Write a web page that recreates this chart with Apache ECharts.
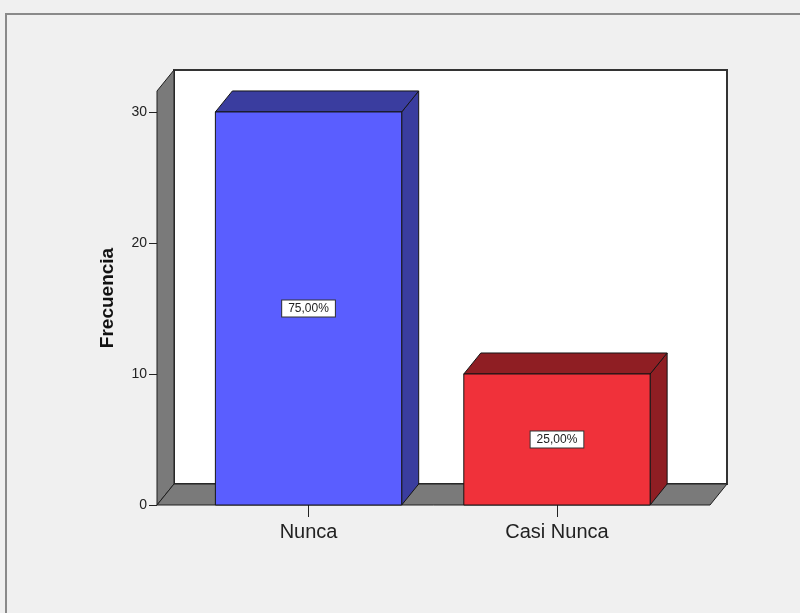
<!DOCTYPE html>
<html>
<head>
<meta charset="utf-8">
<script src="https://cdn.jsdelivr.net/npm/echarts@6/dist/echarts.min.js"></script>
<style>
  html, body { margin: 0; padding: 0; background: #f0f0f0; }
  #chart { width: 800px; height: 613px; }
</style>
</head>
<body>
<div id="chart"></div>
<script>
const categories = ["Nunca", "Casi Nunca"];
const counts = [30, 10];
const yTicks = [0, 10, 20, 30];

const frontColors = ["#5a5eff", "#f0313a"];
const darkColors = ["#3a3d9f", "#8f1e23"];
const depthX = 17, depthY = 21; // desplazamiento 3D
const barWidth = 0.75;
const tickLen = 8;
const font = "'Liberation Sans', Arial, sans-serif";

const total = counts.reduce((a, b) => a + b, 0);
const percents = counts.map(v => (v / total * 100).toFixed(2).replace(".", ",") + "%");

let chart = echarts.init(document.getElementById("chart"));

// paredes, suelo y marcas del eje Y
function renderWalls(params, api) {
    let cs = params.coordSys;
    let x = cs.x, y = cs.y, w = cs.width, h = cs.height;
    let line = { stroke: "#1e1e1e", lineWidth: 1 };
    let children = [
        {
            type: "rect",
            shape: { x: x + depthX, y: y - depthY, width: w, height: h },
            style: { fill: "#ffffff", stroke: "#333", lineWidth: 2 }
        },
        {
            type: "polygon",
            shape: { points: [[x, y], [x + depthX, y - depthY], [x + depthX, y + h - depthY], [x, y + h]] },
            style: Object.assign({ fill: "#7a7a7a" }, line)
        },
        {
            type: "polygon",
            shape: { points: [[x, y + h], [x + depthX, y + h - depthY], [x + w + depthX, y + h - depthY], [x + w, y + h]] },
            style: Object.assign({ fill: "#7a7a7a" }, line)
        }
    ];
    yTicks.forEach(v => {
        let p = api.coord([0, v]);
        children.push({
            type: "line",
            shape: { x1: x - tickLen, y1: Math.round(p[1]) + 0.5, x2: x, y2: Math.round(p[1]) + 0.5 },
            style: { stroke: "#222", lineWidth: 1 }
        });
    });
    return { type: "group", children: children };
}

function renderBar(params, api) {
    let i = params.dataIndex;
    let base = api.coord([api.value(0), 0]);
    let top = api.coord([api.value(0), api.value(1)]);
    let hw = api.size([barWidth, 0])[0] / 2;
    let x0 = base[0] - hw, x1 = base[0] + hw, y0 = top[1], y1 = base[1];
    let line = { stroke: "#151515", lineWidth: 1 };
    return {
        type: "group",
        children: [
            {
                type: "polygon",
                shape: { points: [[x1, y0], [x1 + depthX, y0 - depthY], [x1 + depthX, y1 - depthY], [x1, y1]] },
                style: Object.assign({ fill: darkColors[i] }, line)
            },
            {
                type: "polygon",
                shape: { points: [[x0, y0], [x0 + depthX, y0 - depthY], [x1 + depthX, y0 - depthY], [x1, y0]] },
                style: Object.assign({ fill: darkColors[i] }, line)
            },
            {
                type: "rect",
                shape: { x: x0, y: y0, width: x1 - x0, height: y1 - y0 },
                style: Object.assign({ fill: frontColors[i] }, line)
            },
            {
                type: "text",
                x: base[0],
                y: (y0 + y1) / 2,
                style: {
                    text: percents[i],
                    fill: "#222",
                    fontSize: 12,
                    fontFamily: font,
                    align: "center",
                    verticalAlign: "middle",
                    backgroundColor: "#ffffff",
                    borderColor: "#333",
                    borderWidth: 1,
                    padding: [1, 6],
                    lineHeight: 14
                }
            }
        ]
    };
}

let option = {
    backgroundColor: "#f0f0f0",
    animation: false,
    graphic: [{
        type: "rect",
        shape: { x: 6, y: 14, width: 820, height: 640 },
        style: { fill: "none", stroke: "#8a8a8a", lineWidth: 2 },
        silent: true
    }],
    grid: {
        left: 157,
        right: 90,
        top: 91,
        bottom: 108
    },
    xAxis: {
        type: "value",
        min: -0.61,
        max: 1.616,
        axisLine: { show: false },
        splitLine: { show: false },
        axisTick: {
            show: true,
            customValues: [0, 1],
            length: 12,
            lineStyle: { color: "#222" }
        },
        axisLabel: {
            customValues: [0, 1],
            formatter: v => categories[Math.round(v)],
            fontSize: 20,
            fontFamily: font,
            color: "#222",
            margin: 17
        }
    },
    yAxis: {
        type: "value",
        min: 0,
        max: 31.6,
        name: "Frecuencia",
        nameLocation: "middle",
        nameRotate: 90,
        nameGap: 40,
        nameTextStyle: {
            fontSize: 19,
            fontWeight: "bold",
            fontFamily: font,
            color: "#111"
        },
        axisLine: { show: false },
        splitLine: { show: false },
        axisTick: { show: false },
        axisLabel: {
            customValues: yTicks,
            fontSize: 14,
            fontFamily: font,
            color: "#222",
            margin: 10
        }
    },
    series: [
        {
            type: "custom",
            z: 1,
            renderItem: renderWalls,
            data: [[0, 0]],
            silent: true
        },
        {
            type: "custom",
            z: 2,
            renderItem: renderBar,
            encode: { x: 0, y: 1 },
            data: counts.map((v, i) => [i, v])
        }
    ]
};
chart.setOption(option);
</script>
</body>
</html>
